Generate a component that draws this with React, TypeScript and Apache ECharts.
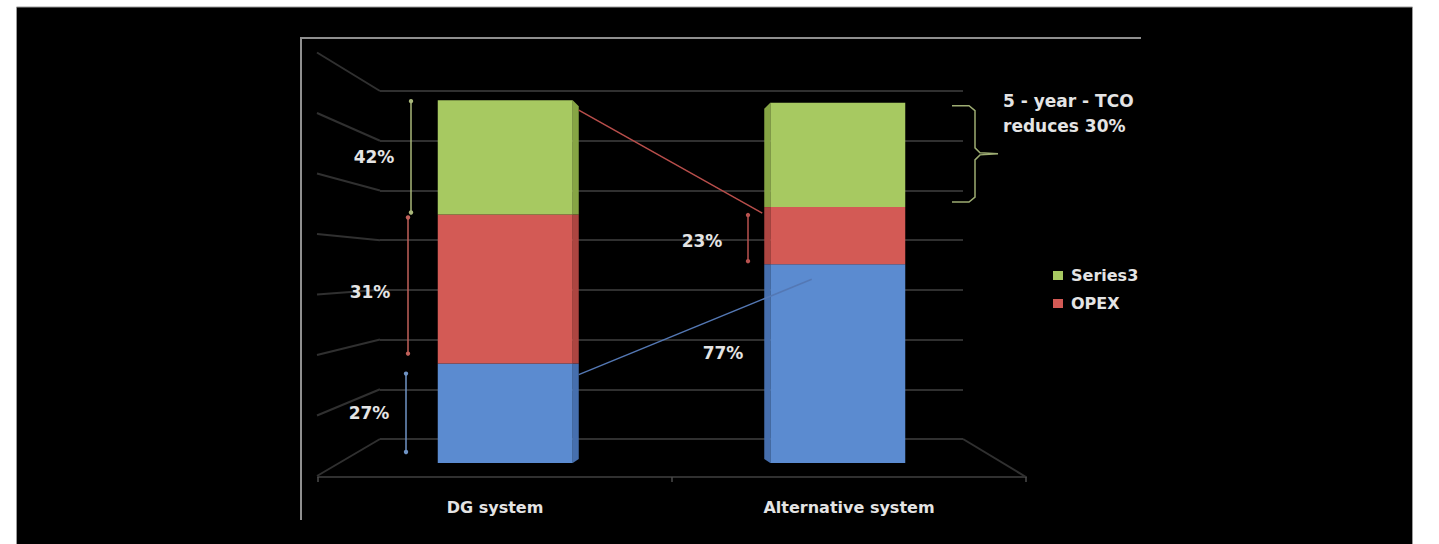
import React, { useEffect, useRef } from "react";
import * as echarts from "echarts";

// ---- data ----
const categories = ["DG system", "Alternative system"];
const capexValues = [2.0, 4.0]; // blue, bottom
const opexValues = [3.0, 1.15]; // red, middle
const series3Values = [2.3, 2.1]; // green, top
const wallTicks = [0, 1, 2, 3, 4, 5, 6, 7];
const dgShareLabels = ["27%", "31%", "42%"]; // bottom -> top
const altShareLabels = ["77%", "23%"];
const noteLines = ["5 - year - TCO", "reduces 30%"];
const legendNames = ["Series3", "OPEX"];

// ---- style ----
const GREEN = "#a7c961";
const RED = "#d35a55";
const BLUE = "#5b8bd0";
const GREEN_SIDE = "#86a544";
const RED_SIDE = "#ad4541";
const BLUE_SIDE = "#466fae";
const TEXT = "#e4e4e4";
const GRIDC = "#303030";
const FONT = "DejaVu Sans";

export default function App() {
  const ref = useRef<HTMLDivElement>(null);

  useEffect(() => {
    if (!ref.current) return;
    const chart = echarts.init(ref.current, undefined, { renderer: "svg" });

    const hiddenAxis = { show: false };
    const option: any = {
      animation: false,
      backgroundColor: "#ffffff",
      grid: [
        // back wall
        { left: 380, top: 91, width: 583, height: 348, outerBoundsMode: "none" },
        // bar front faces
        { left: 339, top: 463 - 8 * 49.7, width: 665, height: 8 * 49.7, outerBoundsMode: "none" },
        // front floor edge + labels
        { left: 318, top: 100, width: 708, height: 377, outerBoundsMode: "none" },
        // left wall front edge
        { left: 317, top: 476 - 7 * 60.5, width: 2, height: 7 * 60.5, outerBoundsMode: "none" },
      ],
      xAxis: [
        { gridIndex: 0, type: "value", ...hiddenAxis },
        { gridIndex: 1, type: "category", data: categories, ...hiddenAxis },
        {
          gridIndex: 2,
          type: "category",
          data: categories,
          axisLine: { show: true, lineStyle: { color: GRIDC, width: 2 } },
          axisTick: { show: true, length: 5, lineStyle: { color: "#4a4a4a", width: 1.5 } },
          axisLabel: {
            margin: 22,
            color: TEXT,
            fontSize: 16,
            fontWeight: "bold",
            fontFamily: FONT,
          },
          splitLine: { show: false },
        },
        { gridIndex: 3, type: "value", ...hiddenAxis },
      ],
      yAxis: [
        {
          gridIndex: 0,
          type: "value",
          min: 0,
          max: 7,
          interval: 1,
          axisLine: { show: false },
          axisTick: { show: false },
          axisLabel: { show: false },
          splitLine: { show: true, lineStyle: { color: GRIDC, width: 2 } },
        },
        { gridIndex: 1, type: "value", min: 0, max: 8, ...hiddenAxis },
        { gridIndex: 2, type: "value", min: 0, max: 1, ...hiddenAxis },
        { gridIndex: 3, type: "value", min: 0, max: 7, ...hiddenAxis },
      ],
      legend: {
        data: legendNames,
        orient: "vertical",
        left: 1048,
        top: 262,
        itemWidth: 10,
        itemHeight: 9,
        itemGap: 11,
        icon: "rect",
        selectedMode: false,
        textStyle: {
          color: TEXT,
          fontSize: 16,
          fontWeight: "bold",
          fontFamily: FONT,
          lineHeight: 17,
          padding: [0, 0, 0, 3],
        },
      },
      series: [
        {
          name: "CAPEX",
          type: "bar",
          stack: "tco",
          xAxisIndex: 1,
          yAxisIndex: 1,
          barWidth: 135,
          data: capexValues,
          itemStyle: { color: BLUE },
          silent: true,
        },
        {
          name: "OPEX",
          type: "bar",
          stack: "tco",
          xAxisIndex: 1,
          yAxisIndex: 1,
          barWidth: 135,
          data: opexValues,
          itemStyle: { color: RED },
          silent: true,
        },
        {
          name: "Series3",
          type: "bar",
          stack: "tco",
          xAxisIndex: 1,
          yAxisIndex: 1,
          barWidth: 135,
          data: series3Values,
          itemStyle: { color: GREEN },
          silent: true,
        },
      ],
    };
    chart.setOption(option);

    // ---- decorations derived from the axes ----
    const yBack = (v: number) => chart.convertToPixel({ yAxisIndex: 0 }, v) as number;
    const yBar = (v: number) => chart.convertToPixel({ yAxisIndex: 1 }, v) as number;
    const ySide = (v: number) => chart.convertToPixel({ yAxisIndex: 3 }, v) as number;
    const xCat = (i: number) => chart.convertToPixel({ xAxisIndex: 1 }, i) as number;

    const backLeft = 380;
    const backRight = 963;
    const sideLeft = 317;
    const frontRight = 1026;
    const half = 135 / 2;
    const TOP = 50;

    const g: any[] = [];
    // slide black background
    g.push({
      type: "rect",
      shape: { x: 16.5, y: 7, width: 1396, height: 560 },
      style: { fill: "#000", stroke: "#9a9a9a", lineWidth: 1 },
      z: -10,
      silent: true,
    });
    // picture frame lines
    g.push({
      type: "polyline",
      shape: { points: [[301, 520], [301, 38], [1141, 38]] },
      style: { stroke: "#8f8f8f", lineWidth: 2, fill: null },
      z: -5,
      silent: true,
    });
    // left wall lines
    wallTicks.forEach((v) => {
      g.push({
        type: "line",
        shape: { x1: sideLeft, y1: ySide(v), x2: backLeft, y2: yBack(v) },
        style: { stroke: GRIDC, lineWidth: 2 },
        z: -5,
        silent: true,
      });
    });
    // right floor edge
    g.push({
      type: "line",
      shape: { x1: backRight, y1: yBack(0), x2: frontRight, y2: ySide(0) + 1 },
      style: { stroke: GRIDC, lineWidth: 2 },
      z: -5,
      silent: true,
    });

    // bar side faces
    const dgStack = [0, capexValues[0], capexValues[0] + opexValues[0], capexValues[0] + opexValues[0] + series3Values[0]];
    const altStack = [0, capexValues[1], capexValues[1] + opexValues[1], capexValues[1] + opexValues[1] + series3Values[1]];
    const sides = [BLUE_SIDE, RED_SIDE, GREEN_SIDE];
    const dgRight = xCat(0) + half;
    const altLeft = xCat(1) - half;
    for (let k = 0; k < 3; k++) {
      const t = yBar(dgStack[k + 1]);
      const b = yBar(dgStack[k]);
      g.push({
        type: "polygon",
        shape: {
          points: k === 2
            ? [[dgRight, t], [dgRight + 6, t + 6], [dgRight + 6, b - (k === 0 ? 4 : 0)], [dgRight, b]]
            : [[dgRight, t], [dgRight + 6, t], [dgRight + 6, b - (k === 0 ? 4 : 0)], [dgRight, b]],
        },
        style: { fill: sides[k] },
        z: 5,
        silent: true,
      });
      const t2 = yBar(altStack[k + 1]);
      const b2 = yBar(altStack[k]);
      g.push({
        type: "polygon",
        shape: {
          points: k === 2
            ? [[altLeft, t2], [altLeft - 6, t2 + 6], [altLeft - 6, b2 - (k === 0 ? 4 : 0)], [altLeft, b2]]
            : [[altLeft, t2], [altLeft - 6, t2], [altLeft - 6, b2 - (k === 0 ? 4 : 0)], [altLeft, b2]],
        },
        style: { fill: sides[k] },
        z: 5,
        silent: true,
      });
    }

    // vertical measure arrows
    const arrow = (x: number, y1: number, y2: number, color: string) => {
      g.push({
        type: "line",
        shape: { x1: x, y1, x2: x, y2 },
        style: { stroke: color, lineWidth: 1.5 },
        z: TOP,
        silent: true,
      });
      g.push({ type: "circle", shape: { cx: x, cy: y1, r: 2.2 }, style: { fill: color }, z: TOP, silent: true });
      g.push({ type: "circle", shape: { cx: x, cy: y2, r: 2.2 }, style: { fill: color }, z: TOP, silent: true });
    };
    arrow(411, yBar(dgStack[3]) + 1, yBar(dgStack[2]) - 2, "#a9b77a");
    arrow(408, yBar(dgStack[2]) + 3, yBar(dgStack[1]) - 10, "#c0605a");
    arrow(406, yBar(dgStack[1]) + 10, yBar(dgStack[0]) - 11, "#6f93c4");
    arrow(748, yBar(altStack[2]) + 8, yBar(altStack[1]) - 3, "#b8524f");

    // connectors between bars
    g.push({
      type: "line",
      shape: { x1: dgRight + 6, y1: yBar(dgStack[3]) + 10, x2: altLeft - 8, y2: yBar(altStack[2]) + 6 },
      style: { stroke: "#b84e4b", lineWidth: 1.5 },
      z: TOP,
      silent: true,
    });
    g.push({
      type: "line",
      shape: { x1: dgRight + 6, y1: yBar(dgStack[1]) + 11, x2: xCat(1) - 26, y2: yBar(altStack[1]) + 15 },
      style: { stroke: "#5478b4", lineWidth: 1.5 },
      z: TOP,
      silent: true,
    });

    // brace for TCO reduction
    const bt = yBar(altStack[3]) + 3;
    const bb = yBar(altStack[2]) - 5;
    const bm = (bt + bb) / 2;
    g.push({
      type: "polyline",
      shape: {
        points: [
          [952, bt], [969, bt], [975, bt + 5], [975, bm - 6], [980, bm - 1], [998, bm],
          [980, bm + 1], [975, bm + 6], [975, bb - 5], [969, bb], [952, bb],
        ],
      },
      style: { stroke: "#9dac72", lineWidth: 1.5, fill: null },
      z: TOP,
      silent: true,
    });

    // text annotations
    const txt = (text: string, x: number, y: number, align: string = "center") => {
      g.push({
        type: "text",
        x,
        y,
        style: {
          text,
          fill: TEXT,
          font: `bold 17px "${FONT}"`,
          textAlign: align,
          textVerticalAlign: "middle",
        },
        z: TOP,
        silent: true,
      });
    };
    const dgMid = (k: number) => (yBar(dgStack[k]) + yBar(dgStack[k + 1])) / 2;
    txt(dgShareLabels[2], 374, dgMid(2));
    txt(dgShareLabels[1], 370, dgMid(1) + 3);
    txt(dgShareLabels[0], 369, dgMid(0));
    txt(altShareLabels[1], 702, yBar(altStack[2]) + 34);
    txt(altShareLabels[0], 723, yBar(altStack[1]) + 89);
    g.push({
      type: "text",
      x: 1003,
      y: 88,
      style: {
        text: noteLines.join("\n"),
        fill: TEXT,
        font: `bold 17px "${FONT}"`,
        lineHeight: 25,
        textAlign: "left",
        textVerticalAlign: "top",
      },
      z: TOP,
      silent: true,
    });

    chart.setOption({ graphic: g });

    return () => chart.dispose();
  }, []);

  return (
    <div
      ref={ref}
      style={{ position: "fixed", left: 0, top: 0, width: 1439, height: 544 }}
    />
  );
}
